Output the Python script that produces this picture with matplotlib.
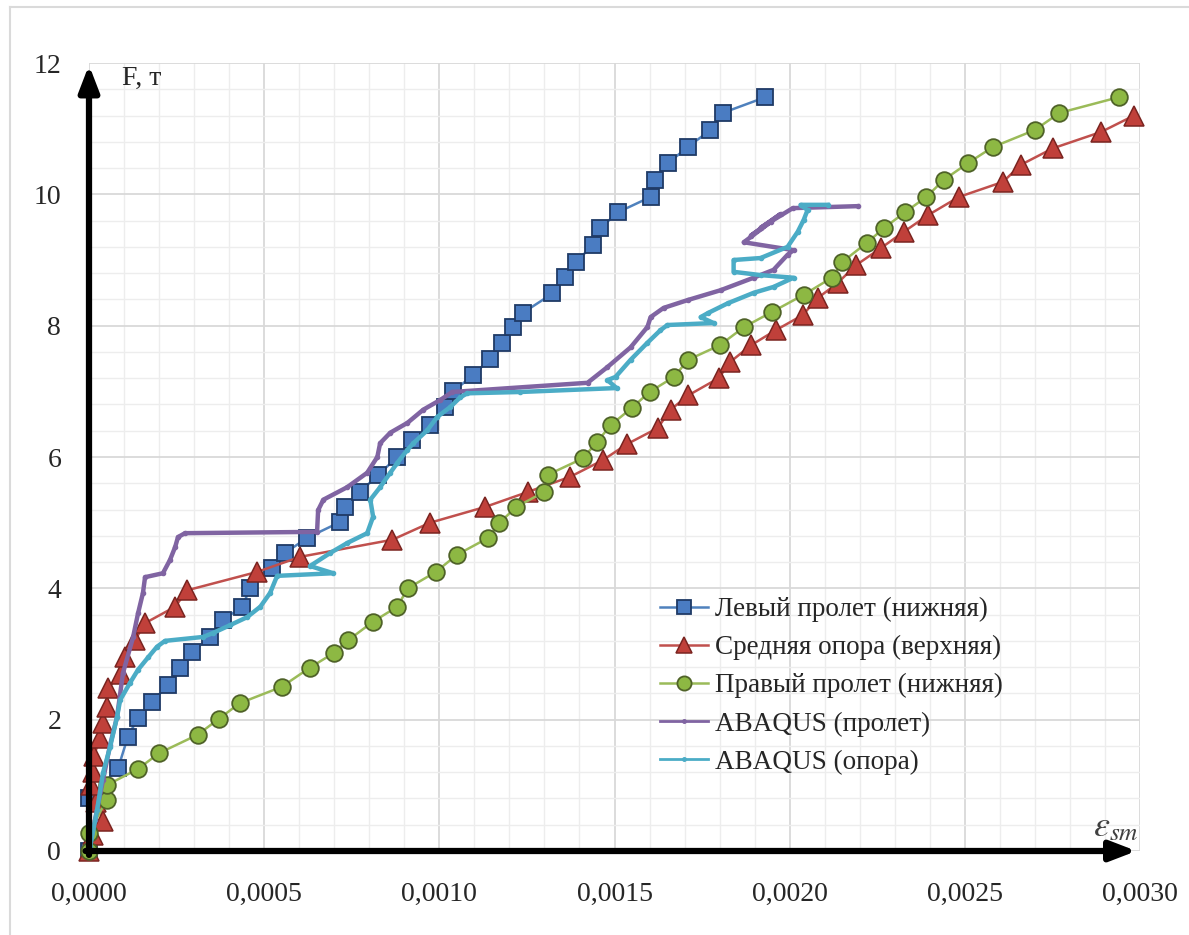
import matplotlib.pyplot as plt
from matplotlib.ticker import FuncFormatter
from matplotlib.lines import Line2D

plt.rcParams['font.family'] = ['Liberation Serif', 'DejaVu Serif']
plt.rcParams['mathtext.fontset'] = 'stix'

# Левый пролет (нижняя)
left_x = [0, 0, 0.000083, 0.000111, 0.00014, 0.00018, 0.000226, 0.00026, 0.000294, 0.000346,
          0.000383, 0.000437, 0.00046, 0.000523, 0.00056, 0.000623, 0.000717, 0.000731, 0.000774,
          0.000826, 0.00088, 0.000923, 0.000974, 0.001017, 0.00104, 0.001097, 0.001146, 0.00118,
          0.00121, 0.00124, 0.001323, 0.00136, 0.001389, 0.00144, 0.00146, 0.001511, 0.001603,
          0.001617, 0.001654, 0.001709, 0.001774, 0.001809, 0.001931]
left_f = [0, 0.8, 1.26, 1.74, 2.03, 2.27, 2.53, 2.79, 3.03, 3.26, 3.52, 3.72, 4.0, 4.31, 4.54,
          4.77, 5.01, 5.24, 5.47, 5.73, 6.0, 6.26, 6.49, 6.76, 7.0, 7.25, 7.5, 7.74, 7.98, 8.2,
          8.49, 8.74, 8.97, 9.23, 9.49, 9.73, 9.96, 10.22, 10.48, 10.72, 10.98, 11.24, 11.48]

# Средняя опора (верхняя)
mid_x = [0, 0.00001, 0.00004, 0.00002, 0.000005, 0.00001, 0.000015, 0.00003, 0.00004, 0.00005,
         0.000055, 0.00009, 0.000103, 0.000131, 0.00016, 0.000246, 0.00028, 0.00048, 0.000603,
         0.000866, 0.000974, 0.001131, 0.001254, 0.001374, 0.001466, 0.001537, 0.001623, 0.00166,
         0.001711, 0.001797, 0.001831, 0.001889, 0.00196, 0.002037, 0.00208, 0.002137, 0.002189,
         0.00226, 0.002326, 0.002394, 0.002483, 0.002609, 0.00266, 0.002751, 0.002889, 0.002983]
mid_f = [0, 0.25, 0.45, 0.75, 1.0, 1.2, 1.45, 1.72, 1.95, 2.2, 2.48, 2.7, 2.95, 3.21, 3.47, 3.72,
         3.97, 4.25, 4.48, 4.74, 5.0, 5.24, 5.47, 5.7, 5.95, 6.2, 6.44, 6.72, 6.94, 7.2, 7.45, 7.7,
         7.93, 8.16, 8.42, 8.65, 8.92, 9.18, 9.43, 9.68, 9.96, 10.19, 10.45, 10.7, 10.95, 11.2]

# Правый пролет (нижняя)
right_x = [0, 0, 0.00005, 0.00005, 0.00014, 0.0002, 0.00031, 0.00037, 0.00043, 0.00055, 0.00063,
           0.0007, 0.00074, 0.00081, 0.00088, 0.00091, 0.00099, 0.00105, 0.00114, 0.00117, 0.00122,
           0.0013, 0.00131, 0.00141, 0.00145, 0.00149, 0.00155, 0.0016, 0.00167, 0.00171, 0.0018,
           0.00187, 0.00195, 0.00204, 0.00212, 0.00215, 0.00222, 0.00227, 0.00233, 0.00239,
           0.00244, 0.00251, 0.00258, 0.0027, 0.00277, 0.00294]
right_f = [0, 0.27, 0.78, 1.0, 1.25, 1.49, 1.77, 2.01, 2.25, 2.5, 2.79, 3.02, 3.21, 3.49, 3.72,
           4.0, 4.25, 4.51, 4.77, 4.99, 5.24, 5.47, 5.73, 5.98, 6.23, 6.49, 6.75, 6.99, 7.22, 7.48,
           7.7, 7.98, 8.21, 8.47, 8.73, 8.97, 9.26, 9.49, 9.73, 9.96, 10.22, 10.48, 10.72, 10.98,
           11.24, 11.48]

# ABAQUS (пролет)
abq_span_x = [0, 0.000017, 0.00004, 0.00006, 0.00008, 0.000097, 0.000126, 0.00014, 0.000154,
              0.00016, 0.000211, 0.000231, 0.000246, 0.000254, 0.000274, 0.000651, 0.000654,
              0.000669, 0.000737, 0.000794, 0.000823, 0.000831, 0.00086, 0.000909, 0.000954,
              0.001003, 0.001037, 0.001423, 0.00148, 0.001546, 0.001594, 0.001603, 0.00164,
              0.001709, 0.001803, 0.001897, 0.001954, 0.001994, 0.002011, 0.001869, 0.001946,
              0.001889, 0.001974, 0.001917, 0.002009, 0.002194]
abq_span_f = [0, 0.47, 1.08, 1.61, 2.04, 2.71, 3.26, 3.62, 3.93, 4.17, 4.23, 4.43, 4.63, 4.78,
              4.84, 4.86, 5.19, 5.35, 5.54, 5.76, 6.0, 6.21, 6.37, 6.52, 6.72, 6.87, 6.99, 7.13,
              7.37, 7.67, 7.98, 8.13, 8.27, 8.39, 8.54, 8.73, 8.85, 9.08, 9.15, 9.27, 9.58, 9.37,
              9.7, 9.49, 9.79, 9.82]

# ABAQUS (опора)
abq_sup_x = [0, 0.000003, 0.000023, 0.00004, 0.00006, 0.00008, 0.000089, 0.000117, 0.00014,
             0.000169, 0.000194, 0.000217, 0.000326, 0.000354, 0.000403, 0.000451, 0.000489,
             0.000517, 0.000537, 0.000697, 0.000631, 0.000689, 0.000737, 0.000794, 0.000811,
             0.000803, 0.000831, 0.00086, 0.00088, 0.000909, 0.000926, 0.000966, 0.000994,
             0.001031, 0.00106, 0.00108, 0.001231, 0.001506, 0.00148, 0.001503, 0.001546,
             0.001594, 0.001631, 0.001651, 0.001783, 0.001746, 0.001766, 0.001823, 0.001897,
             0.001954, 0.002011, 0.001917, 0.00184, 0.00184, 0.001917, 0.001994, 0.002023,
             0.00204, 0.002051, 0.002031, 0.002109]
abq_sup_f = [0, 0.06, 0.62, 1.19, 1.58, 2.04, 2.3, 2.56, 2.76, 2.95, 3.11, 3.2, 3.26, 3.32, 3.44,
             3.56, 3.72, 3.93, 4.19, 4.23, 4.34, 4.54, 4.69, 4.84, 5.09, 5.35, 5.54, 5.76, 5.91,
             6.11, 6.21, 6.41, 6.61, 6.76, 6.91, 6.97, 6.99, 7.05, 7.17, 7.22, 7.48, 7.74, 7.93,
             8.01, 8.04, 8.13, 8.19, 8.34, 8.5, 8.59, 8.73, 8.77, 8.82, 9.0, 9.03, 9.2, 9.43,
             9.61, 9.76, 9.84, 9.84]

x_ticks = [0, 0.0005, 0.0010, 0.0015, 0.0020, 0.0025, 0.0030]
y_ticks = [0, 2, 4, 6, 8, 10, 12]

fig = plt.figure(figsize=(11.89, 9.35), dpi=100)
ax = fig.add_axes([89 / 1189, 84 / 935, 1051 / 1189, 788 / 935])

ax.set_xlim(0, 0.003)
ax.set_ylim(0, 12)
ax.set_xticks(x_ticks)
ax.set_yticks(y_ticks)
ax.set_xticks([i * 0.0001 for i in range(31)], minor=True)
ax.set_yticks([i * 0.4 for i in range(31)], minor=True)
ax.xaxis.set_major_formatter(FuncFormatter(lambda v, p: f'{v:.4f}'.replace('.', ',')))
ax.yaxis.set_major_formatter(FuncFormatter(lambda v, p: f'{v:.0f}'))
ax.grid(which='major', color='#D9D9D9', lw=1.3)
ax.grid(which='minor', color='#EDEDED', lw=1.0)
ax.set_axisbelow(True)
for s in ax.spines.values():
    s.set_visible(False)
ax.tick_params(which='both', length=0, labelsize=20, colors='#262626')
ax.tick_params(axis='x', pad=22)
ax.tick_params(axis='y', pad=20)

ax.plot(left_x, left_f, color='#4F81BD', lw=1.8, marker='s', ms=12, mfc='#4A7CC2',
        mec='#1F3A66', mew=1.3, label='Левый пролет (нижняя)', clip_on=False, zorder=3)
ax.plot(mid_x, mid_f, color='#C0504D', lw=1.8, marker='^', ms=14, mfc='#C0403A',
        mec='#7A2420', mew=1.1, label='Средняя опора (верхняя)', clip_on=False, zorder=3)
ax.plot(right_x, right_f, color='#9BBB59', lw=1.8, marker='o', ms=12, mfc='#8DB843',
        mec='#4F6228', mew=1.3, label='Правый пролет (нижняя)', clip_on=False, zorder=3)
ax.plot(abq_span_x, abq_span_f, color='#8064A2', lw=3.2, marker='o', ms=3,
        label='ABAQUS (пролет)', clip_on=False, zorder=4)
ax.plot(abq_sup_x, abq_sup_f, color='#4BACC6', lw=3.2, marker='o', ms=3,
        label='ABAQUS (опора)', clip_on=False, zorder=4)

# axis arrows
arrow = dict(arrowstyle='-|>,head_length=1.3,head_width=0.5', color='black', lw=4.5,
             shrinkA=0, shrinkB=0, mutation_scale=12)
ax.annotate('', xy=(0, 11.97), xytext=(0, -0.06), arrowprops=arrow, annotation_clip=False, zorder=6)
ax.annotate('', xy=(0.00299, 0), xytext=(-0.00001, 0), arrowprops=arrow, annotation_clip=False, zorder=6)

ax.text(0.000094, 11.77, 'F, т', fontsize=20, ha='left', va='center', color='#262626')
ax.text(0.00293, 0.36, r'$\varepsilon_{sm}$', fontsize=26, ha='center', va='center', color='#404040')

leg = ax.legend(loc='center left', bbox_to_anchor=(0.543, 0.2096), frameon=False, fontsize=19.5,
                borderpad=0, borderaxespad=0, handlelength=1.8, handletextpad=0.25,
                labelspacing=0.48, markerscale=0.85, labelcolor='#262626')
for h in leg.legend_handles[3:]:
    h.set_linewidth(2)

# picture frame
fig.add_artist(Line2D([10 / 1189, 10 / 1189], [0, 1 - 7 / 935], transform=fig.transFigure,
                      color='#DADADA', lw=1.5))
fig.add_artist(Line2D([10 / 1189, 1], [1 - 7 / 935, 1 - 7 / 935], transform=fig.transFigure,
                      color='#DADADA', lw=1.5))

fig.savefig('out.png', dpi=100, facecolor='white')
